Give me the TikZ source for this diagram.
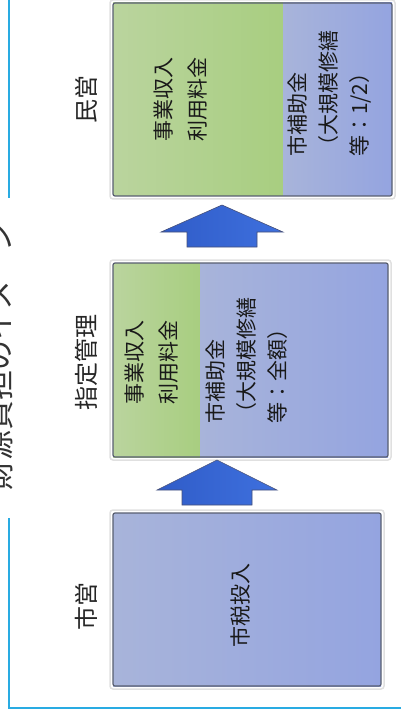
\documentclass[tikz,border=0pt]{standalone}
\usepackage{fontspec}
\newfontfamily\jfont{Noto Sans CJK JP}
\definecolor{framecyan}{RGB}{41,171,226}
\definecolor{boxgray}{RGB}{88,94,112}
\definecolor{greenL}{RGB}{186,212,158}
\definecolor{greenR}{RGB}{168,206,128}
\definecolor{blueL}{RGB}{168,180,218}
\definecolor{blueR}{RGB}{148,164,224}
\definecolor{arrowL}{RGB}{48,92,200}
\definecolor{arrowR}{RGB}{62,112,222}
\definecolor{arrowedge}{RGB}{70,80,120}
\tikzset{
  boxline/.style={draw=boxgray, line width=1.2pt, rounded corners=2pt},
  boxglow/.style={draw=black!12, line width=1.5pt, rounded corners=3pt},
  greenpart/.style={left color=greenL, right color=greenR},
  bluepart/.style={left color=blueL, right color=blueR},
  sidelabel/.style={rotate=90, text=black!85, font=\jfont\fontsize{24}{24}\selectfont},
  boxtext/.style={rotate=90, text=black!90, align=left, font=\jfont\fontsize{21}{31}\selectfont},
  greentext/.style={boxtext, font=\jfont\fontsize{21}{34}\selectfont},
  bigarrow/.style={left color=arrowL, right color=arrowR, draw=arrowedge, line width=0.6pt},
}
\begin{document}
\begin{tikzpicture}[x=1pt, y=-1pt]
	\useasboundingbox (0,0) rectangle (401,719);
	% frame and title
	\draw[framecyan, line width=1.5pt] (9,0) -- (9,198);
	\draw[framecyan, line width=1.5pt] (9,518) -- (9,708) -- (401,708);
	\node[rotate=90, anchor=base, text=black!80, font=\jfont\fontsize{30}{30}\selectfont] (title) at (10,356) {財源負担のイメージ};
	% min'ei
	\draw[boxglow] (110,0) rectangle (395,199);
	\shade[greenpart] (113,3) rectangle (283,196);
	\shade[bluepart] (283,3) rectangle (392,196);
	\draw[boxline] (113,3) rectangle (392,196);
	\node[sidelabel] (minei) at (86,100) {民営};
	\node[greentext] (minei-g) at (181,100) {事業収入\\利用料金};
	\node[boxtext] (minei-b) at (330,94) {市補助金\\（大規模修繕\\等：1/2）};
	% arrow 1
	\path[bigarrow, shift={(222,205)}] (0,0) -- (61,27) -- (35,27) -- (35,42) -- (-35,42) -- (-35,27) -- (-61,27) -- cycle;
	% shitei kanri
	\draw[boxglow] (110,260) rectangle (391,460);
	\shade[greenpart] (113,263) rectangle (200,457);
	\shade[bluepart] (200,263) rectangle (388,457);
	\draw[boxline] (113,263) rectangle (388,457);
	\node[sidelabel] (shitei) at (86,362) {指定管理};
	\node[greentext] (shitei-g) at (152,362) {事業収入\\利用料金};
	\node[boxtext] (shitei-b) at (247,360) {市補助金\\（大規模修繕\\等：全額）};
	% arrow 2
	\path[bigarrow, shift={(217,460)}] (0,0) -- (60,30) -- (35,30) -- (35,45) -- (-35,45) -- (-35,30) -- (-60,30) -- cycle;
	% shiei
	\draw[boxglow] (110,510) rectangle (384,689);
	\shade[bluepart] (113,513) rectangle (381,686);
	\draw[boxline] (113,513) rectangle (381,686);
	\node[sidelabel] (shiei) at (86,606) {市営};
	\node[boxtext] (shiei-b) at (240,605) {市税投入};
\end{tikzpicture}
\end{document}
